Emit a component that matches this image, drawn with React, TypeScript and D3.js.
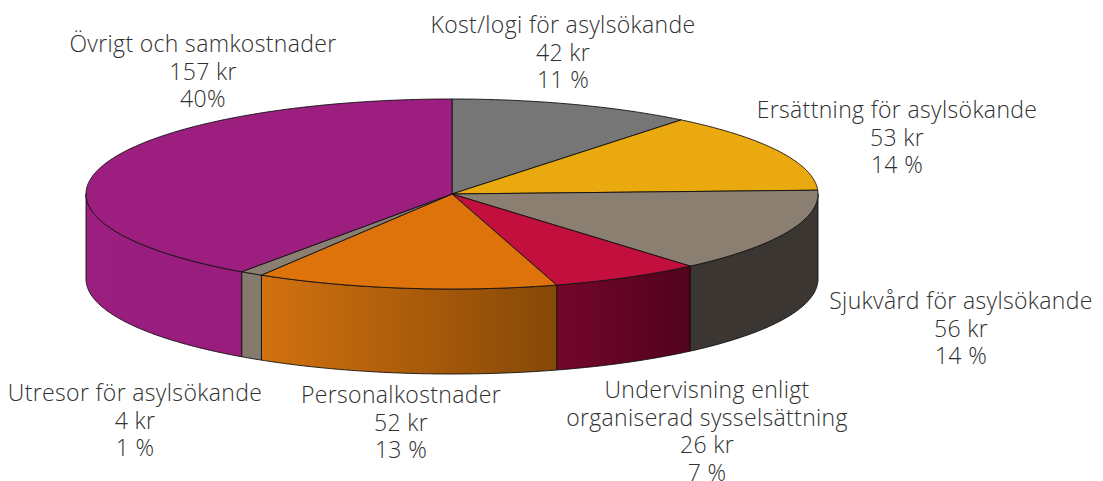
import React from "react";
import * as d3 from "d3";

const categories = ["Kost/logi för asylsökande","Ersättning för asylsökande","Sjukvård för asylsökande","Undervisning enligt organiserad sysselsättning","Personalkostnader","Utresor för asylsökande","Övrigt och samkostnader"];
const values = [42, 53, 56, 26, 52, 4, 157];
const topColors = ["#767676","#E9A90F","#8B7F72","#C20F3E","#DE730C","#8B7F72","#9C1F7F"];
const sideFrom = ["#555","#A87A0A","#3C3632","#74062A","#D2710F","#857A6E","#9B1E80"];
const sideTo = ["#555","#A87A0A","#3C3632","#50031C","#864807","#857A6E","#981D7C"];
const labelLines = [
  ["Kost/logi för asylsökande","42 kr","11 %"],
  ["Ersättning för asylsökande","53 kr","14 %"],
  ["Sjukvård för asylsökande","56 kr","14 %"],
  ["Undervisning enligt","organiserad sysselsättning","26 kr","7 %"],
  ["Personalkostnader","52 kr","13 %"],
  ["Utresor för asylsökande","4 kr","1 %"],
  ["Övrigt och samkostnader","157 kr","40%"],
];
const labelAnchors: [number, number][] = [[563,33],[897,118],[961,309],[707,398],[401,403],[135,401],[203,52]];

const W = 1103, H = 481, CX = 452, CY = 194, RX = 366, RY = 95, DEPTH = 85;
const px = (a: number) => CX + RX * Math.sin(a);
const py = (a: number) => CY - RY * Math.cos(a);

const steps = (a0: number, a1: number) => {
  const n = Math.max(2, Math.ceil((a1 - a0) / 0.01));
  return d3.range(n + 1).map((i) => a0 + ((a1 - a0) * i) / n);
};
const line = d3.line<[number, number]>().x((d) => d[0]).y((d) => d[1]);

export default function App() {
  const arcs = d3.pie<number>().sort(null).startAngle(0).endAngle(2 * Math.PI)(values);
  const sides = arcs
    .map((d, i) => ({ i, a0: Math.max(d.startAngle, Math.PI / 2), a1: Math.min(d.endAngle, 1.5 * Math.PI) }))
    .filter((s) => s.a1 > s.a0);
  return (
    <svg width={W} height={H} style={{ position: "absolute", left: 0, top: 0, background: "#fff" }}>
      <defs>
        {sides.map((s) => (
          <linearGradient key={s.i} id={`side${s.i}`} gradientUnits="userSpaceOnUse" x1={px(s.a1)} x2={px(s.a0)} y1={0} y2={0}>
            <stop offset="0" stopColor={sideFrom[s.i]} />
            <stop offset="1" stopColor={sideTo[s.i]} />
          </linearGradient>
        ))}
      </defs>
      {sides.map((s) => {
        const top = steps(s.a0, s.a1).map((a) => [px(a), py(a)] as [number, number]);
        const bottom = top.map(([x, y]) => [x, y + DEPTH] as [number, number]).reverse();
        return <path key={s.i} d={line([...top, ...bottom])! + "Z"} fill={`url(#side${s.i})`} stroke="#111" strokeWidth={0.9} strokeLinejoin="round" />;
      })}
      {arcs.map((d, i) => {
        const pts = steps(d.startAngle, d.endAngle).map((a) => [px(a), py(a)] as [number, number]);
        return <path key={i} d={line([[CX, CY], ...pts])! + "Z"} fill={topColors[i]} stroke="#111" strokeWidth={0.9} strokeLinejoin="round" />;
      })}
      {labelLines.map((lines, i) => (
        <text key={i} textAnchor="middle" fontFamily="'Open Sans', sans-serif" fontWeight={300} fontSize={23} letterSpacing={0.35} fill="#303030">
          {lines.map((t, j) => (
            <tspan key={j} x={labelAnchors[i][0]} y={labelAnchors[i][1] + j * 27.5}>{t}</tspan>
          ))}
        </text>
      ))}
    </svg>
  );
}
